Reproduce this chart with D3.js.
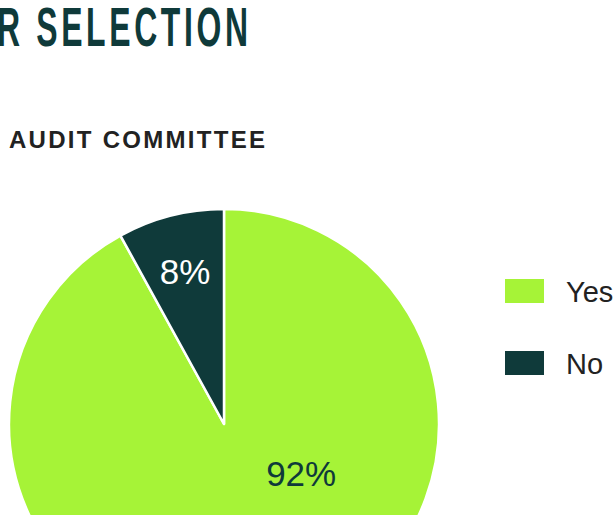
<!DOCTYPE html>
<html lang="en">
<head>
<meta charset="utf-8">
<title>Audit committee</title>
<style>
  body { margin: 0; background: #fff; }
  svg { display: block; }
</style>
</head>
<body>
<svg id="chart" width="614" height="515"></svg>
<script src="https://d3js.org/d3.v7.min.js"></script>
<script>
  // data
  var categories = ["Yes", "No"];
  var shares = [92, 8];
  var labels = ["92%", "8%"];
  var colors = ["#a6f337", "#0f3a3a"];
  var labelColors = ["#0f3a3a", "#ffffff"];

  var svg = d3.select("#chart");

  // heading, cut off on the left like the source (condensed by squeezing x)
  var sx = 0.58;
  svg.append("g")
      .attr("transform", "translate(-3,46) scale(" + sx + ",1)")
    .append("text")
      .text("R SELECTION")
      .attr("x", 0)
      .attr("y", 0)
      .attr("textLength", 251 / sx)
      .attr("lengthAdjust", "spacing")
      .attr("font-family", "Liberation Sans Narrow, Liberation Sans, sans-serif")
      .attr("font-weight", "bold")
      .attr("font-size", 55)
      .attr("fill", "#0f3a3a");

  svg.append("text")
      .text("AUDIT COMMITTEE")
      .attr("x", 9)
      .attr("y", 147.5)
      .attr("textLength", 256)
      .attr("lengthAdjust", "spacing")
      .attr("font-family", "Liberation Sans, Arial, sans-serif")
      .attr("font-weight", "bold")
      .attr("font-size", 24)
      .attr("fill", "#222");

  var rows = categories.map((c, i) => ({label: c, value: shares[i], text: labels[i], i: i}));

  var cx = 224, cy = 424, r = 215;

  var pie = d3.pie().sort(null).value(d => d.value);
  var arc = d3.arc().innerRadius(0).outerRadius(r);

  var g = svg.append("g").attr("transform", "translate(" + cx + "," + cy + ")");
  var arcs = pie(rows);

  g.selectAll("path")
    .data(arcs)
    .join("path")
      .attr("d", arc)
      .attr("fill", d => colors[d.data.i])
      .attr("stroke", "#fff")
      .attr("stroke-width", 2.5)
      .attr("stroke-linejoin", "round");

  // label placement: small slice at its centroid, big slice pulled into the visible part
  var labelPos = [
    {angle: 123 * Math.PI / 180, radius: 92},
    null
  ];
  var labelArc = d3.arc().innerRadius(r * 0.73).outerRadius(r * 0.73);

  g.selectAll("text.lbl")
    .data(arcs)
    .join("text")
      .attr("class", "lbl")
      .text(d => d.data.text)
      .attr("transform", d => {
        var p = labelPos[d.data.i];
        var xy = p ? [Math.sin(p.angle) * p.radius, -Math.cos(p.angle) * p.radius] : labelArc.centroid(d);
        return "translate(" + xy[0] + "," + xy[1] + ")";
      })
      .attr("text-anchor", "middle")
      .attr("dy", "0.35em")
      .attr("font-family", "Liberation Sans, Arial, sans-serif")
      .attr("font-size", 35)
      .attr("fill", d => labelColors[d.data.i]);

  // legend
  var legend = svg.append("g").attr("transform", "translate(505,279)");
  var item = legend.selectAll("g")
    .data(rows)
    .join("g")
      .attr("transform", (d, i) => "translate(0," + (i * 72) + ")");
  item.append("rect")
      .attr("width", 39)
      .attr("height", 24)
      .attr("fill", d => colors[d.i]);
  item.append("text")
      .text(d => d.label)
      .attr("x", 61)
      .attr("y", 23)
      .attr("font-family", "Liberation Sans, Arial, sans-serif")
      .attr("font-size", 29)
      .attr("fill", "#222");
</script>
</body>
</html>
